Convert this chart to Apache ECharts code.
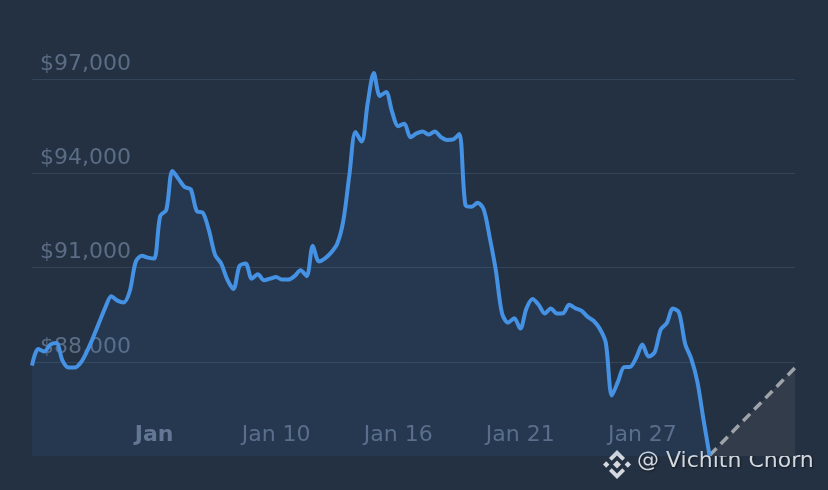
<!DOCTYPE html>
<html>
<head>
<meta charset="utf-8">
<script src="https://cdn.jsdelivr.net/npm/echarts@6/dist/echarts.min.js"></script>
<style>
  html, body { margin: 0; padding: 0; background: #243142; }
  #chart { width: 828px; height: 490px; }
</style>
</head>
<body>
<div id="chart"></div>
<script>
// price samples, evenly spaced along the x axis
var prices = [
  87880, 88410, 88330, 88550, 88600, 88040, 87820, 87820, 87980, 88330,
  88770, 89250, 89730, 90090, 89950, 89890, 90240, 91190, 91380, 91320,
  91290, 92650, 92840, 94080, 93830, 93570, 93500, 92800, 92750, 92180,
  91410, 91130, 90620, 90320, 91060, 91130, 90650, 90790, 90600, 90650,
  90700, 90620, 90620, 90730, 90920, 90730, 91700, 91200, 91300, 91480,
  91760, 92490, 93960, 95320, 95020, 96250, 97200, 96470, 96600, 95960,
  95510, 95590, 95160, 95280, 95340, 95240, 95340, 95160, 95070, 95090,
  95260, 93000, 92940, 93070, 92860, 91950, 90900, 89550, 89250, 89390,
  89060, 89700, 90000, 89820, 89540, 89700, 89540, 89550, 89820, 89710,
  89630, 89440, 89310, 89060, 88610, 86930, 87370, 87830, 87840, 88140,
  88550, 88170, 88300, 89030, 89240, 89700, 89570, 88580, 88100, 87370,
  86170, 85020
];
var slotCount = 126;
// dashed projection from the last price to the right edge
var projIdx = [111, 125];
var projVal = [85020, 87810];

var tickIdx = [20, 40, 60, 80, 100];
var tickText = ['Jan', 'Jan 10', 'Jan 16', 'Jan 21', 'Jan 27'];
var yTicks = [88000, 91000, 94000, 97000];

var categories = [];
for (var i = 0; i < slotCount; i++) categories.push(i);
var projData = [];
for (var i = 0; i < slotCount; i++) projData.push(null);
projData[projIdx[0]] = projVal[0];
projData[projIdx[1]] = projVal[1];

var font = 'DejaVu Sans';
var gridCol = '#33455a';

var chart = echarts.init(document.getElementById('chart'));
chart.setOption({
  backgroundColor: '#243142',
  animation: false,
  grid: { left: 32, right: 33, top: 48, bottom: 34 },
  xAxis: {
    type: 'category',
    data: categories,
    boundaryGap: false,
    axisLine: { show: false },
    axisTick: { show: false },
    splitLine: { show: false },
    axisLabel: {
      inside: true,
      margin: 10,
      interval: function (idx) { return tickIdx.indexOf(idx) >= 0; },
      formatter: function (v, idx) {
        var k = tickIdx.indexOf(idx);
        if (k < 0) return '';
        return k === 0 ? '{b|' + tickText[k] + '}' : tickText[k];
      },
      fontFamily: font,
      fontSize: 22,
      color: '#5b6c85',
      rich: {
        b: { fontFamily: font, fontSize: 22, fontWeight: 'bold', color: '#66768e' }
      }
    }
  },
  yAxis: {
    type: 'value',
    min: 85000,
    max: 98000,
    interval: 3000,
    axisLine: { show: false },
    axisTick: { show: false },
    splitLine: {
      lineStyle: { color: ['transparent', gridCol, gridCol, gridCol, gridCol, 'transparent'], width: 1 }
    },
    axisLabel: {
      inside: true,
      margin: 8,
      verticalAlign: 'bottom',
      lineHeight: 30,
      fontFamily: font,
      fontSize: 22,
      color: '#5b6c85',
      formatter: function (v) {
        if (yTicks.indexOf(v) < 0) return '';
        return '$' + v.toLocaleString('en-US');
      }
    }
  },
  series: [
    {
      type: 'line',
      data: projData,
      connectNulls: true,
      symbol: 'none',
      lineStyle: { color: '#9ea2a9', width: 3.5, type: [10, 6] },
      areaStyle: { color: '#323c4a', opacity: 1 },
      z: 1
    },
    {
      type: 'line',
      data: prices,
      symbol: 'none',
      smooth: 0.3,
      lineStyle: { color: '#4592e4', width: 4 },
      areaStyle: { color: 'rgba(74,144,226,0.12)' },
      z: 3
    }
  ],
  graphic: [
    {
      type: 'group',
      left: 603,
      top: 450,
      children: [
        { type: 'polygon', shape: { points: [[14, 10.5], [18, 14.5], [14, 18.5], [10, 14.5]] }, style: { fill: '#d5d9df' } },
        { type: 'polygon', shape: { points: [[0, 14.5], [3.2, 11.3], [6.4, 14.5], [3.2, 17.7]] }, style: { fill: '#d5d9df' } },
        { type: 'polygon', shape: { points: [[21.6, 14.5], [24.8, 11.3], [28, 14.5], [24.8, 17.7]] }, style: { fill: '#d5d9df' } },
        { type: 'polygon', shape: { points: [[6, 8], [14, 0], [22, 8], [19.3, 10.7], [14, 5.4], [8.7, 10.7]] }, style: { fill: '#d5d9df' } },
        { type: 'polygon', shape: { points: [[6, 21], [14, 29], [22, 21], [19.3, 18.3], [14, 23.6], [8.7, 18.3]] }, style: { fill: '#d5d9df' } }
      ]
    },
    {
      type: 'text',
      left: 637,
      top: 450,
      style: {
        text: '@ Vichith Chorn',
        font: '22px "DejaVu Sans"',
        fill: '#d3d7de',
        textShadowColor: 'rgba(0,0,0,0.5)',
        textShadowBlur: 2,
        textShadowOffsetX: 1,
        textShadowOffsetY: 1
      }
    }
  ]
});
</script>
</body>
</html>
